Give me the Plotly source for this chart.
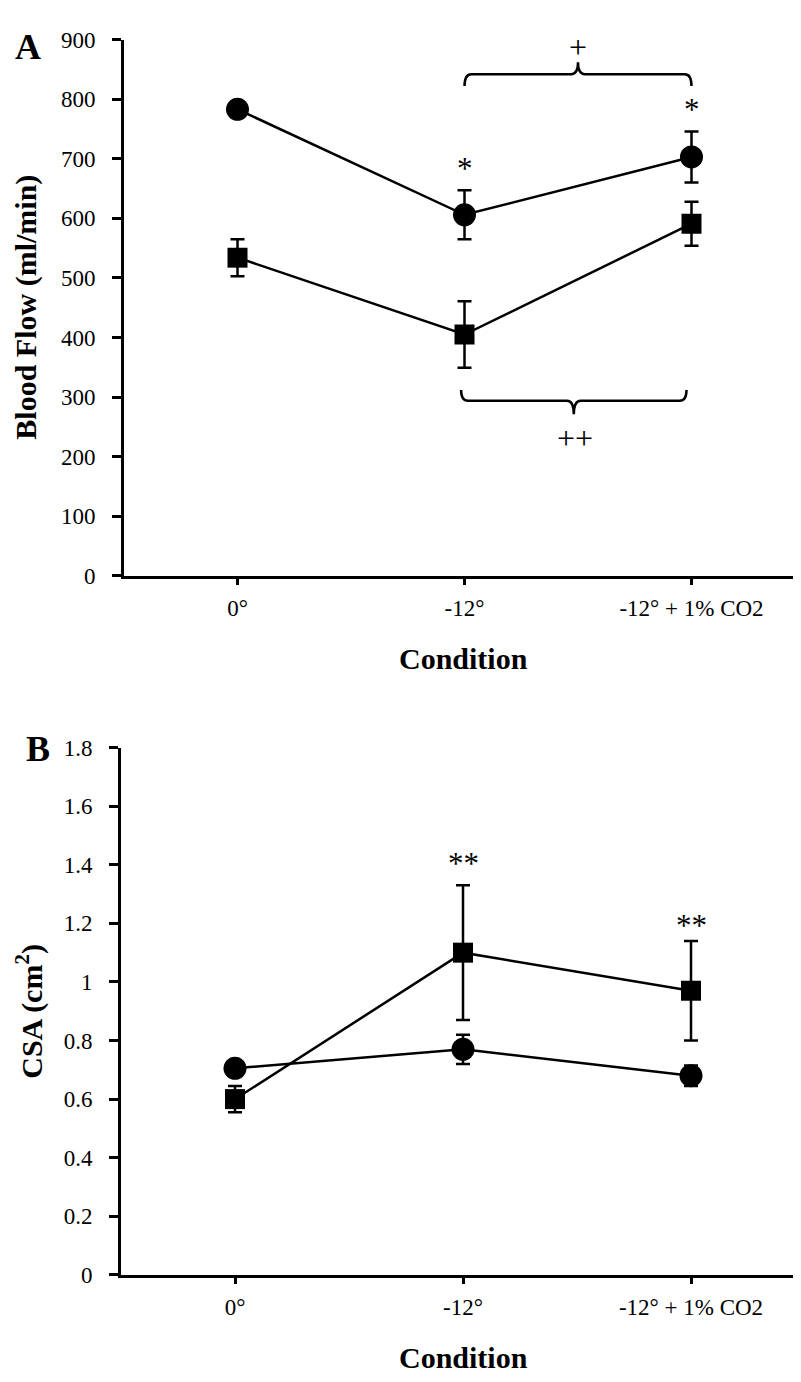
import plotly.graph_objects as go

W, H = 801, 1382

conditions = ["0°", "-12°", "-12° + 1% CO2"]
xpos = [0, 1, 2]

# Panel A: blood flow (ml/min)
flow_circle = [783, 606, 703]
flow_circle_err = [13, 41, 43]
flow_square = [534, 405, 591]
flow_square_err = [31, 56, 37]

# Panel B: CSA (cm2)
csa_circle = [0.705, 0.77, 0.68]
csa_circle_err = [0.012, 0.05, 0.035]
csa_square = [0.60, 1.10, 0.97]
csa_square_err = [0.045, 0.23, 0.17]

flow_ticks = [0, 100, 200, 300, 400, 500, 600, 700, 800, 900]
csa_ticks = [0, 0.2, 0.4, 0.6, 0.8, 1.0, 1.2, 1.4, 1.6, 1.8]
csa_ticktext = ["0", "0.2", "0.4", "0.6", "0.8", "1", "1.2", "1.4", "1.6", "1.8"]

FONT = "Liberation Serif"


def px_x(p):
    return p / W


def px_y(p):
    return 1 - p / H


fig = go.Figure()


def add_series(y, err, symbol, size, xa, ya):
    fig.add_trace(go.Scatter(
        x=xpos, y=y, mode="lines+markers",
        line=dict(color="black", width=2.5),
        marker=dict(symbol=symbol, size=size, color="black"),
        error_y=dict(type="data", array=err, visible=True, color="black",
                     thickness=2.5, width=7),
        xaxis=xa, yaxis=ya, showlegend=False, hoverinfo="skip",
    ))


add_series(flow_circle, flow_circle_err, "circle", 23, "x", "y")
add_series(flow_square, flow_square_err, "square", 20, "x", "y")
add_series(csa_circle, csa_circle_err, "circle", 23, "x2", "y2")
add_series(csa_square, csa_square_err, "square", 20, "x2", "y2")

axis_common = dict(
    showline=True, linecolor="black", linewidth=3, showgrid=False,
    zeroline=False, ticks="outside", tickcolor="black", tickwidth=2.5,
    tickfont=dict(family=FONT, size=23, color="black"),
)

xaxis_common = dict(
    axis_common, range=[-0.5, 2.5], tickvals=xpos,
    ticktext=conditions, ticklen=6, ticklabelstandoff=4,
)

fig.update_layout(
    width=W, height=H,
    margin=dict(l=0, r=0, t=0, b=0),
    paper_bgcolor="white", plot_bgcolor="white",
    xaxis=dict(xaxis_common, domain=[px_x(116), px_x(797)], anchor="y"),
    yaxis=dict(axis_common, domain=[px_y(566), px_y(20)], range=[0, 900],
               tickvals=flow_ticks, ticklen=9, ticklabelstandoff=12, anchor="x"),
    xaxis2=dict(xaxis_common, domain=[px_x(113), px_x(797)], anchor="y2"),
    yaxis2=dict(axis_common, domain=[px_y(1278), px_y(741)], range=[0, 1.8],
                tickvals=csa_ticks, ticktext=csa_ticktext, ticklen=9,
                ticklabelstandoff=12, anchor="x2"),
)

# Small end tick at the right end of each x axis
for xr, yr in (("x", "y"), ("x2", "y2")):
    fig.add_shape(type="line", xref=f"{xr} domain", yref=yr,
                  x0=1, x1=1, ysizemode="pixel", yanchor=0, y0=0, y1=-6,
                  line=dict(color="black", width=2.5))

# Significance markers (text placed above the error bars)
stars = [
    ("x", "y", 1, flow_circle[1] + flow_circle_err[1], "*", 2),
    ("x", "y", 2, flow_circle[2] + flow_circle_err[2], "*", 2),
    ("x2", "y2", 1, csa_square[1] + csa_square_err[1], "**", 2),
    ("x2", "y2", 2, csa_square[2] + csa_square_err[2], "**", -4),
]
for xr, yr, xv, yv, txt, ys in stars:
    fig.add_annotation(x=xv, y=yv, xref=xr, yref=yr, text=txt, showarrow=False,
                       yanchor="bottom", yshift=ys,
                       font=dict(family=FONT, size=31, color="black"))

# Braces in panel A
upper_brace = dict(x0=1.0, x1=2.0, y_line=842, y_end=822, y_tip=862)
lower_brace = dict(x0=0.985, x1=1.978, y_line=294, y_end=312, y_tip=271)


def brace_path(b):
    x0, x1 = b["x0"], b["x1"]
    xm = (x0 + x1) / 2
    yl, ye, yt = b["y_line"], b["y_end"], b["y_tip"]
    dx = 0.03
    return (f"M {x0},{ye} Q {x0},{yl} {x0 + dx},{yl} L {xm - dx},{yl} "
            f"Q {xm},{yl} {xm},{yt} Q {xm},{yl} {xm + dx},{yl} "
            f"L {x1 - dx},{yl} Q {x1},{yl} {x1},{ye}")


for b in (upper_brace, lower_brace):
    fig.add_shape(type="path", path=brace_path(b), xref="x", yref="y",
                  line=dict(color="black", width=2.5))

fig.add_annotation(x=1.5, y=887, xref="x", yref="y", text="+", showarrow=False,
                   font=dict(family=FONT, size=32, color="black"))
fig.add_annotation(x=1.485, y=231, xref="x", yref="y", text="++", showarrow=False,
                   font=dict(family=FONT, size=32, color="black"))

# Panel letters and axis titles
paper_texts = [
    ("<b>A</b>", 20, 28, 36, 0),
    ("<b>B</b>", 30, 742, 36, 0),
    ("<b>Condition</b>", 456, 650, 30, 0),
    ("<b>Condition</b>", 455, 1362, 30, 0),
    ("<b>Blood Flow (ml/min)</b>", 18, 293, 30, -90),
    ("<b>CSA (cm<sup>2</sup>)</b>", 22, 1010, 30, -90),
]
for txt, px, py, size, ang in paper_texts:
    fig.add_annotation(x=px_x(px), y=px_y(py), xref="paper", yref="paper",
                       text=txt, showarrow=False, textangle=ang,
                       xanchor="center", yanchor="middle",
                       font=dict(family=FONT, size=size, color="black"))

fig.write_html("out.html")
